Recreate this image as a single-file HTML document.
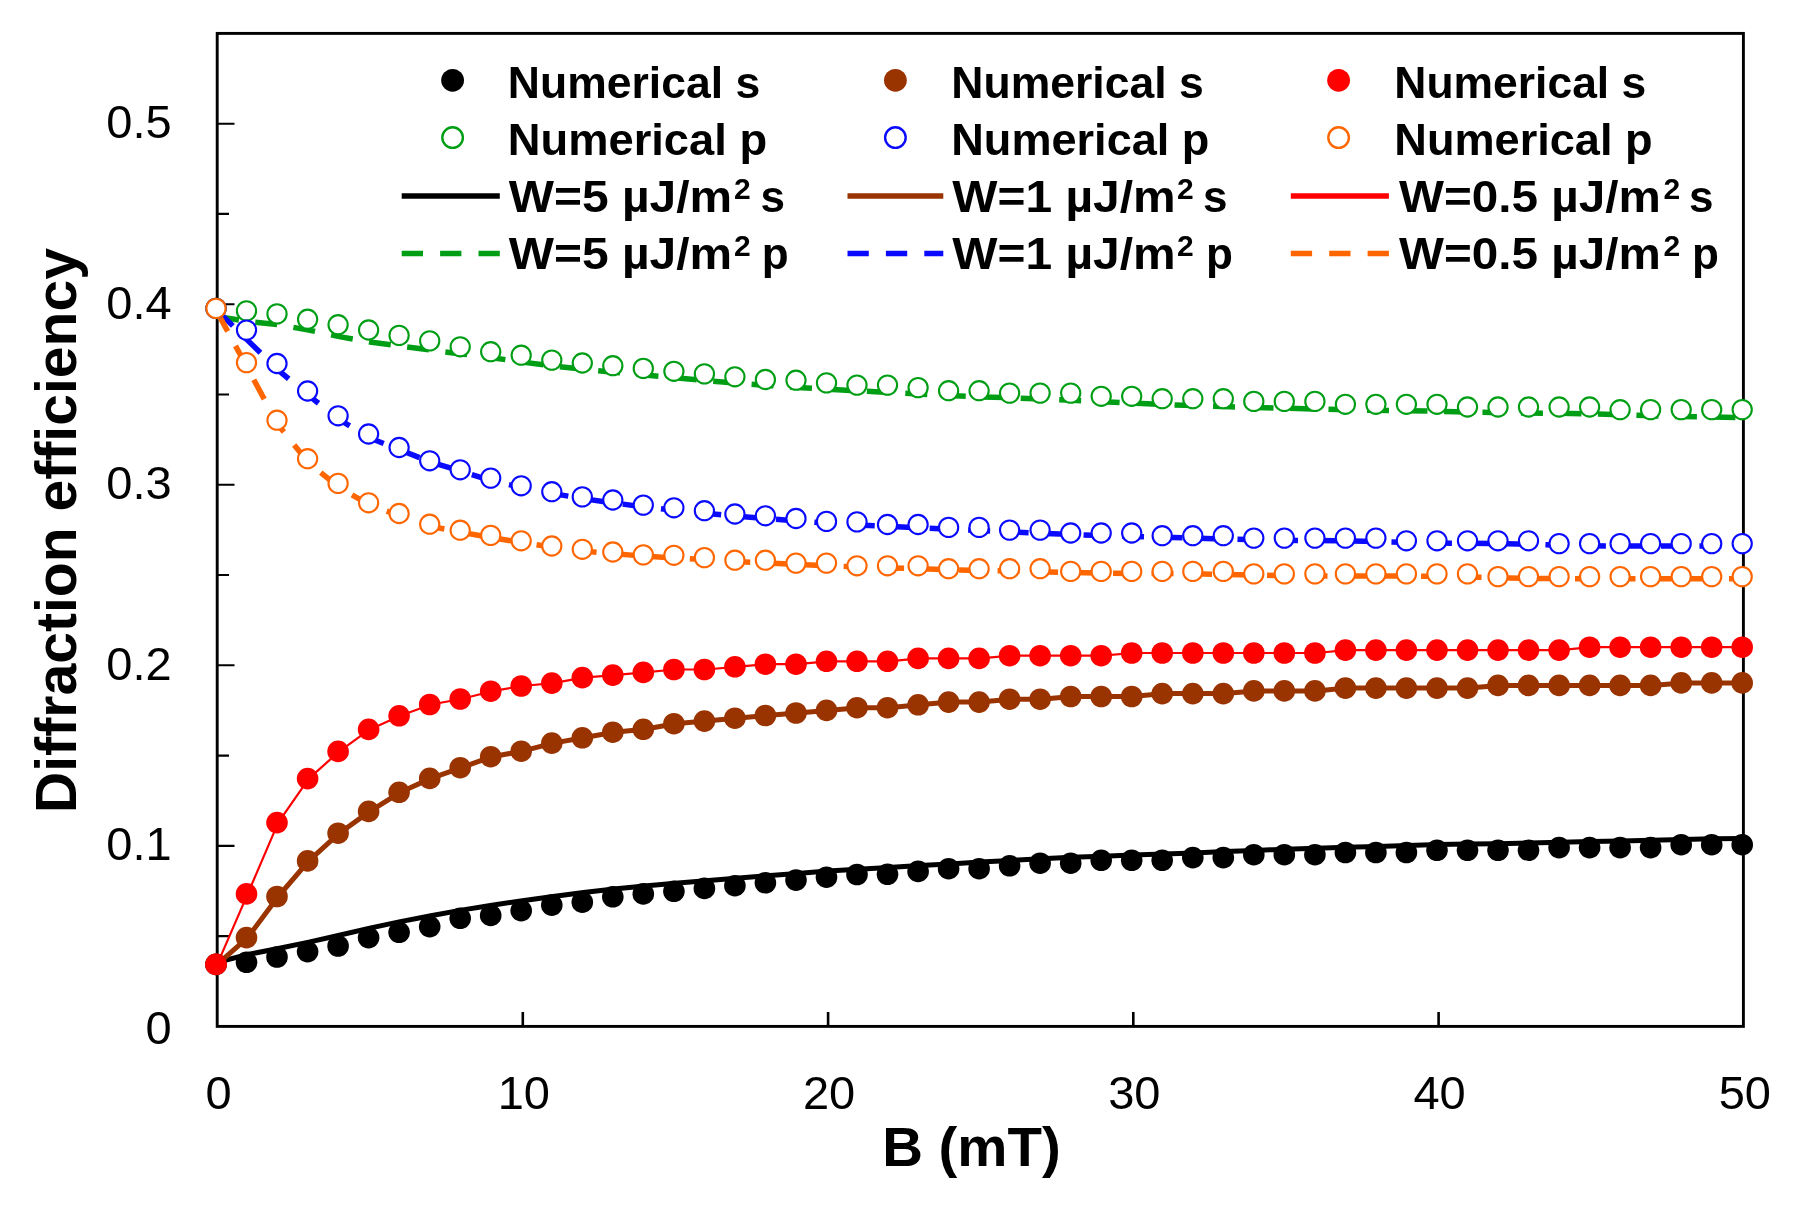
<!DOCTYPE html>
<html lang="en"><head><meta charset="utf-8"><title>Diffraction efficiency vs B</title>
<style>html,body{margin:0;padding:0;background:#fff}body{width:1797px;height:1210px;overflow:hidden}svg{display:block;filter:blur(0.75px)}text{font-family:"Liberation Sans",sans-serif;fill:#000}.b{font-weight:bold}</style></head><body>
<svg width="1797" height="1210" viewBox="0 0 1797 1210">
<rect width="1797" height="1210" fill="#fff"/>
<rect x="217.2" y="33.4" width="1526.2" height="993.0" fill="none" stroke="#000" stroke-width="2.9"/>
<path d="M217.2 936.1h11.8 M217.2 845.9h17.3 M217.2 755.6h11.8 M217.2 665.3h17.3 M217.2 575.0h11.8 M217.2 484.8h17.3 M217.2 394.5h11.8 M217.2 304.2h17.3 M217.2 213.9h11.8 M217.2 123.7h17.3" stroke="#000" stroke-width="2.1" fill="none"/>
<path d="M522.8 1026.4v-14.4 M828.1 1026.4v-14.4 M1133.3 1026.4v-14.4 M1438.6 1026.4v-14.4" stroke="#000" stroke-width="2.6" fill="none"/>
<polyline fill="none" stroke="#009e14" stroke-width="5.5" stroke-linejoin="round" stroke-dasharray="22.0 16.5" points="217.2,316.5 247.7,321.5 278.2,324.7 308.8,330.1 339.3,336.6 369.8,342.0 400.3,346.1 430.9,350.1 461.4,353.9 491.9,357.7 522.4,362.1 553.0,365.9 583.5,369.3 614.0,372.3 644.5,375.1 675.1,377.8 705.6,380.6 736.1,383.1 766.6,385.4 797.2,387.4 827.7,389.2 858.2,390.9 888.7,392.4 919.3,394.0 949.8,395.6 980.3,396.9 1010.8,397.8 1041.3,398.9 1071.9,400.2 1102.4,401.7 1132.9,403.2 1163.4,404.5 1194.0,405.6 1224.5,406.6 1255.0,407.4 1285.5,408.2 1316.1,409.0 1346.6,409.8 1377.1,410.3 1407.6,410.7 1438.2,411.3 1468.7,412.1 1499.2,412.7 1529.7,413.0 1560.3,413.3 1590.8,413.9 1621.3,414.8 1651.8,415.8 1682.4,416.6 1712.9,417.1 1743.4,417.6"/>
<polyline fill="none" stroke="#0a0aff" stroke-width="5.5" stroke-linejoin="round" stroke-dasharray="22.0 16.5" points="217.2,310.5 247.7,340.4 278.2,370.1 308.8,395.7 339.3,419.5 369.8,438.0 400.3,450.0 430.9,462.2 461.4,471.3 491.9,480.9 522.4,487.5 553.0,493.6 583.5,498.7 614.0,503.0 644.5,506.9 675.1,510.3 705.6,513.3 736.1,516.1 766.6,518.6 797.2,521.0 827.7,523.1 858.2,524.9 888.7,526.4 919.3,527.8 949.8,529.2 980.3,530.6 1010.8,532.0 1041.3,533.3 1071.9,534.5 1102.4,535.5 1132.9,536.4 1163.4,537.3 1194.0,538.2 1224.5,539.0 1255.0,539.8 1285.5,540.3 1316.1,540.6 1346.6,540.9 1377.1,541.6 1407.6,542.4 1438.2,543.0 1468.7,543.3 1499.2,543.6 1529.7,544.3 1560.3,545.2 1590.8,545.8 1621.3,546.1 1651.8,546.1 1682.4,546.1 1712.9,546.1 1743.4,546.1"/>
<polyline fill="none" stroke="#ff6600" stroke-width="5.5" stroke-linejoin="round" stroke-dasharray="22.0 16.5" points="217.2,312.0 247.7,368.3 278.2,425.1 308.8,463.0 339.3,487.4 369.8,505.2 400.3,515.9 430.9,526.4 461.4,532.4 491.9,537.6 522.4,542.7 553.0,547.2 583.5,550.9 614.0,553.8 644.5,556.1 675.1,558.0 705.6,559.8 736.1,561.5 766.6,563.0 797.2,564.4 827.7,565.8 858.2,566.9 888.7,567.9 919.3,568.8 949.8,569.8 980.3,570.5 1010.8,571.0 1041.3,571.7 1071.9,572.5 1102.4,573.2 1132.9,573.4 1163.4,573.5 1194.0,573.8 1224.5,574.4 1255.0,575.1 1285.5,575.7 1316.1,575.9 1346.6,576.0 1377.1,576.0 1407.6,576.0 1438.2,576.3 1468.7,576.9 1499.2,577.8 1529.7,578.4 1560.3,578.6 1590.8,578.7 1621.3,578.7 1651.8,578.7 1682.4,578.7 1712.9,578.7 1743.4,578.7"/>
<polyline fill="none" stroke="#000000" stroke-width="5.0" stroke-linejoin="round" points="217.2,962.3 247.7,954.5 278.2,948.5 308.8,942.1 339.3,935.3 369.8,928.1 400.3,921.6 430.9,915.7 461.4,910.1 491.9,905.2 522.4,900.7 553.0,896.6 583.5,892.6 614.0,889.1 644.5,885.9 675.1,883.2 705.6,880.7 736.1,878.3 766.6,875.8 797.2,873.4 827.7,871.1 858.2,869.3 888.7,867.5 919.3,865.6 949.8,863.9 980.3,862.1 1010.8,860.4 1041.3,858.7 1071.9,857.3 1102.4,856.2 1132.9,855.1 1163.4,854.1 1194.0,852.9 1224.5,851.6 1255.0,850.4 1285.5,849.2 1316.1,848.3 1346.6,847.3 1377.1,846.4 1407.6,845.4 1438.2,844.6 1468.7,844.1 1499.2,843.7 1529.7,843.0 1560.3,842.2 1590.8,841.5 1621.3,841.0 1651.8,840.3 1682.4,839.4 1712.9,838.8 1743.4,838.5"/>
<polyline fill="none" stroke="#993300" stroke-width="5.0" stroke-linejoin="round" points="217.2,964.4 247.7,937.6 278.2,896.5 308.8,860.9 339.3,833.2 369.8,811.4 400.3,792.3 430.9,778.4 461.4,767.7 491.9,756.7 522.4,751.2 553.0,743.1 583.5,737.8 614.0,732.2 644.5,729.3 675.1,723.7 705.6,721.1 736.1,718.2 766.6,715.5 797.2,713.0 827.7,710.4 858.2,707.7 888.7,707.7 919.3,704.8 949.8,702.1 980.3,702.1 1010.8,699.2 1041.3,699.2 1071.9,696.5 1102.4,696.5 1132.9,696.5 1163.4,693.6 1194.0,693.6 1224.5,693.6 1255.0,690.9 1285.5,690.9 1316.1,690.9 1346.6,688.1 1377.1,688.1 1407.6,688.1 1438.2,688.1 1468.7,688.1 1499.2,685.4 1529.7,685.4 1560.3,685.4 1590.8,685.4 1621.3,685.4 1651.8,685.4 1682.4,682.9 1712.9,682.9 1743.4,682.9"/>
<polyline fill="none" stroke="#fe0000" stroke-width="2.2" stroke-linejoin="round" points="217.2,964.4 247.7,893.9 278.2,822.6 308.8,778.6 339.3,751.4 369.8,729.4 400.3,715.8 430.9,704.5 461.4,699.0 491.9,691.2 522.4,686.0 553.0,683.1 583.5,677.6 614.0,675.1 644.5,672.4 675.1,669.5 705.6,669.5 736.1,666.8 766.6,664.2 797.2,664.2 827.7,661.3 858.2,661.3 888.7,661.3 919.3,658.4 949.8,658.4 980.3,658.4 1010.8,655.7 1041.3,655.7 1071.9,655.7 1102.4,655.7 1132.9,653.0 1163.4,653.0 1194.0,653.0 1224.5,653.0 1255.0,653.0 1285.5,653.0 1316.1,653.0 1346.6,650.1 1377.1,650.1 1407.6,650.1 1438.2,650.1 1468.7,650.1 1499.2,650.1 1529.7,650.1 1560.3,650.1 1590.8,647.2 1621.3,647.2 1651.8,647.2 1682.4,647.2 1712.9,647.2 1743.4,647.2"/>
<g fill="#000000"><circle cx="216.0" cy="964.4" r="10.8"/><circle cx="246.5" cy="962.3" r="10.8"/><circle cx="277.0" cy="957.0" r="10.8"/><circle cx="307.6" cy="951.6" r="10.8"/><circle cx="338.1" cy="946.0" r="10.8"/><circle cx="368.6" cy="937.6" r="10.8"/><circle cx="399.1" cy="932.3" r="10.8"/><circle cx="429.7" cy="926.6" r="10.8"/><circle cx="460.2" cy="918.3" r="10.8"/><circle cx="490.7" cy="915.4" r="10.8"/><circle cx="521.2" cy="910.6" r="10.8"/><circle cx="551.8" cy="905.1" r="10.8"/><circle cx="582.3" cy="902.2" r="10.8"/><circle cx="612.8" cy="896.8" r="10.8"/><circle cx="643.3" cy="893.9" r="10.8"/><circle cx="673.9" cy="891.3" r="10.8"/><circle cx="704.4" cy="888.4" r="10.8"/><circle cx="734.9" cy="885.7" r="10.8"/><circle cx="765.4" cy="882.8" r="10.8"/><circle cx="796.0" cy="880.1" r="10.8"/><circle cx="826.5" cy="877.2" r="10.8"/><circle cx="857.0" cy="874.5" r="10.8"/><circle cx="887.5" cy="874.3" r="10.8"/><circle cx="918.1" cy="871.4" r="10.8"/><circle cx="948.6" cy="868.7" r="10.8"/><circle cx="979.1" cy="868.7" r="10.8"/><circle cx="1009.6" cy="865.8" r="10.8"/><circle cx="1040.1" cy="863.2" r="10.8"/><circle cx="1070.7" cy="863.2" r="10.8"/><circle cx="1101.2" cy="860.3" r="10.8"/><circle cx="1131.7" cy="860.3" r="10.8"/><circle cx="1162.2" cy="860.3" r="10.8"/><circle cx="1192.8" cy="857.6" r="10.8"/><circle cx="1223.3" cy="857.6" r="10.8"/><circle cx="1253.8" cy="854.7" r="10.8"/><circle cx="1284.3" cy="854.7" r="10.8"/><circle cx="1314.9" cy="854.7" r="10.8"/><circle cx="1345.4" cy="852.5" r="10.8"/><circle cx="1375.9" cy="852.5" r="10.8"/><circle cx="1406.4" cy="852.5" r="10.8"/><circle cx="1437.0" cy="850.3" r="10.8"/><circle cx="1467.5" cy="850.3" r="10.8"/><circle cx="1498.0" cy="850.3" r="10.8"/><circle cx="1528.5" cy="850.3" r="10.8"/><circle cx="1559.1" cy="847.6" r="10.8"/><circle cx="1589.6" cy="847.6" r="10.8"/><circle cx="1620.1" cy="847.6" r="10.8"/><circle cx="1650.6" cy="847.6" r="10.8"/><circle cx="1681.2" cy="844.7" r="10.8"/><circle cx="1711.7" cy="844.7" r="10.8"/><circle cx="1742.2" cy="844.7" r="10.8"/></g>
<g fill="#fff" stroke="#009e14" stroke-width="2.1"><circle cx="216.0" cy="308.4" r="9.6"/><circle cx="246.5" cy="310.9" r="9.6"/><circle cx="277.0" cy="313.9" r="9.6"/><circle cx="307.6" cy="319.2" r="9.6"/><circle cx="338.1" cy="324.7" r="9.6"/><circle cx="368.6" cy="330.0" r="9.6"/><circle cx="399.1" cy="335.4" r="9.6"/><circle cx="429.7" cy="340.9" r="9.6"/><circle cx="460.2" cy="346.8" r="9.6"/><circle cx="490.7" cy="351.7" r="9.6"/><circle cx="521.2" cy="355.2" r="9.6"/><circle cx="551.8" cy="360.1" r="9.6"/><circle cx="582.3" cy="363.0" r="9.6"/><circle cx="612.8" cy="365.7" r="9.6"/><circle cx="643.3" cy="368.4" r="9.6"/><circle cx="673.9" cy="371.3" r="9.6"/><circle cx="704.4" cy="373.9" r="9.6"/><circle cx="734.9" cy="376.8" r="9.6"/><circle cx="765.4" cy="379.5" r="9.6"/><circle cx="796.0" cy="380.2" r="9.6"/><circle cx="826.5" cy="382.9" r="9.6"/><circle cx="857.0" cy="385.1" r="9.6"/><circle cx="887.5" cy="385.1" r="9.6"/><circle cx="918.1" cy="387.6" r="9.6"/><circle cx="948.6" cy="390.7" r="9.6"/><circle cx="979.1" cy="390.7" r="9.6"/><circle cx="1009.6" cy="393.1" r="9.6"/><circle cx="1040.1" cy="393.1" r="9.6"/><circle cx="1070.7" cy="393.1" r="9.6"/><circle cx="1101.2" cy="396.3" r="9.6"/><circle cx="1131.7" cy="396.3" r="9.6"/><circle cx="1162.2" cy="398.7" r="9.6"/><circle cx="1192.8" cy="398.7" r="9.6"/><circle cx="1223.3" cy="398.7" r="9.6"/><circle cx="1253.8" cy="401.4" r="9.6"/><circle cx="1284.3" cy="401.4" r="9.6"/><circle cx="1314.9" cy="401.4" r="9.6"/><circle cx="1345.4" cy="404.3" r="9.6"/><circle cx="1375.9" cy="404.3" r="9.6"/><circle cx="1406.4" cy="404.3" r="9.6"/><circle cx="1437.0" cy="404.3" r="9.6"/><circle cx="1467.5" cy="407.0" r="9.6"/><circle cx="1498.0" cy="407.0" r="9.6"/><circle cx="1528.5" cy="407.0" r="9.6"/><circle cx="1559.1" cy="407.0" r="9.6"/><circle cx="1589.6" cy="407.0" r="9.6"/><circle cx="1620.1" cy="409.7" r="9.6"/><circle cx="1650.6" cy="409.6" r="9.6"/><circle cx="1681.2" cy="409.6" r="9.6"/><circle cx="1711.7" cy="409.6" r="9.6"/><circle cx="1742.2" cy="409.6" r="9.6"/></g>
<g fill="#993300"><circle cx="216.0" cy="964.4" r="10.8"/><circle cx="246.5" cy="937.6" r="10.8"/><circle cx="277.0" cy="896.5" r="10.8"/><circle cx="307.6" cy="860.9" r="10.8"/><circle cx="338.1" cy="833.2" r="10.8"/><circle cx="368.6" cy="811.4" r="10.8"/><circle cx="399.1" cy="792.3" r="10.8"/><circle cx="429.7" cy="778.4" r="10.8"/><circle cx="460.2" cy="767.7" r="10.8"/><circle cx="490.7" cy="756.7" r="10.8"/><circle cx="521.2" cy="751.2" r="10.8"/><circle cx="551.8" cy="743.1" r="10.8"/><circle cx="582.3" cy="737.8" r="10.8"/><circle cx="612.8" cy="732.2" r="10.8"/><circle cx="643.3" cy="729.3" r="10.8"/><circle cx="673.9" cy="723.7" r="10.8"/><circle cx="704.4" cy="721.1" r="10.8"/><circle cx="734.9" cy="718.2" r="10.8"/><circle cx="765.4" cy="715.5" r="10.8"/><circle cx="796.0" cy="713.0" r="10.8"/><circle cx="826.5" cy="710.4" r="10.8"/><circle cx="857.0" cy="707.7" r="10.8"/><circle cx="887.5" cy="707.7" r="10.8"/><circle cx="918.1" cy="704.8" r="10.8"/><circle cx="948.6" cy="702.1" r="10.8"/><circle cx="979.1" cy="702.1" r="10.8"/><circle cx="1009.6" cy="699.2" r="10.8"/><circle cx="1040.1" cy="699.2" r="10.8"/><circle cx="1070.7" cy="696.5" r="10.8"/><circle cx="1101.2" cy="696.5" r="10.8"/><circle cx="1131.7" cy="696.5" r="10.8"/><circle cx="1162.2" cy="693.6" r="10.8"/><circle cx="1192.8" cy="693.6" r="10.8"/><circle cx="1223.3" cy="693.6" r="10.8"/><circle cx="1253.8" cy="690.9" r="10.8"/><circle cx="1284.3" cy="690.9" r="10.8"/><circle cx="1314.9" cy="690.9" r="10.8"/><circle cx="1345.4" cy="688.1" r="10.8"/><circle cx="1375.9" cy="688.1" r="10.8"/><circle cx="1406.4" cy="688.1" r="10.8"/><circle cx="1437.0" cy="688.1" r="10.8"/><circle cx="1467.5" cy="688.1" r="10.8"/><circle cx="1498.0" cy="685.4" r="10.8"/><circle cx="1528.5" cy="685.4" r="10.8"/><circle cx="1559.1" cy="685.4" r="10.8"/><circle cx="1589.6" cy="685.4" r="10.8"/><circle cx="1620.1" cy="685.4" r="10.8"/><circle cx="1650.6" cy="685.4" r="10.8"/><circle cx="1681.2" cy="682.9" r="10.8"/><circle cx="1711.7" cy="682.9" r="10.8"/><circle cx="1742.2" cy="682.9" r="10.8"/></g>
<g fill="#fff" stroke="#0a0aff" stroke-width="2.1"><circle cx="216.0" cy="308.4" r="9.6"/><circle cx="246.5" cy="330.1" r="9.6"/><circle cx="277.0" cy="363.5" r="9.6"/><circle cx="307.6" cy="391.0" r="9.6"/><circle cx="338.1" cy="415.8" r="9.6"/><circle cx="368.6" cy="434.0" r="9.6"/><circle cx="399.1" cy="447.5" r="9.6"/><circle cx="429.7" cy="460.8" r="9.6"/><circle cx="460.2" cy="469.8" r="9.6"/><circle cx="490.7" cy="478.1" r="9.6"/><circle cx="521.2" cy="485.8" r="9.6"/><circle cx="551.8" cy="491.7" r="9.6"/><circle cx="582.3" cy="496.9" r="9.6"/><circle cx="612.8" cy="500.0" r="9.6"/><circle cx="643.3" cy="505.1" r="9.6"/><circle cx="673.9" cy="507.8" r="9.6"/><circle cx="704.4" cy="510.7" r="9.6"/><circle cx="734.9" cy="514.0" r="9.6"/><circle cx="765.4" cy="515.8" r="9.6"/><circle cx="796.0" cy="518.5" r="9.6"/><circle cx="826.5" cy="521.4" r="9.6"/><circle cx="857.0" cy="521.9" r="9.6"/><circle cx="887.5" cy="524.5" r="9.6"/><circle cx="918.1" cy="524.5" r="9.6"/><circle cx="948.6" cy="527.4" r="9.6"/><circle cx="979.1" cy="527.4" r="9.6"/><circle cx="1009.6" cy="530.1" r="9.6"/><circle cx="1040.1" cy="530.1" r="9.6"/><circle cx="1070.7" cy="533.0" r="9.6"/><circle cx="1101.2" cy="533.0" r="9.6"/><circle cx="1131.7" cy="533.0" r="9.6"/><circle cx="1162.2" cy="535.7" r="9.6"/><circle cx="1192.8" cy="535.7" r="9.6"/><circle cx="1223.3" cy="535.7" r="9.6"/><circle cx="1253.8" cy="538.1" r="9.6"/><circle cx="1284.3" cy="538.1" r="9.6"/><circle cx="1314.9" cy="538.1" r="9.6"/><circle cx="1345.4" cy="538.1" r="9.6"/><circle cx="1375.9" cy="538.1" r="9.6"/><circle cx="1406.4" cy="540.8" r="9.6"/><circle cx="1437.0" cy="540.8" r="9.6"/><circle cx="1467.5" cy="540.8" r="9.6"/><circle cx="1498.0" cy="540.8" r="9.6"/><circle cx="1528.5" cy="540.8" r="9.6"/><circle cx="1559.1" cy="543.6" r="9.6"/><circle cx="1589.6" cy="543.6" r="9.6"/><circle cx="1620.1" cy="543.6" r="9.6"/><circle cx="1650.6" cy="543.6" r="9.6"/><circle cx="1681.2" cy="543.6" r="9.6"/><circle cx="1711.7" cy="543.6" r="9.6"/><circle cx="1742.2" cy="543.6" r="9.6"/></g>
<g fill="#fe0000"><circle cx="216.0" cy="964.4" r="10.8"/><circle cx="246.5" cy="893.9" r="10.8"/><circle cx="277.0" cy="822.6" r="10.8"/><circle cx="307.6" cy="778.6" r="10.8"/><circle cx="338.1" cy="751.4" r="10.8"/><circle cx="368.6" cy="729.4" r="10.8"/><circle cx="399.1" cy="715.8" r="10.8"/><circle cx="429.7" cy="704.5" r="10.8"/><circle cx="460.2" cy="699.0" r="10.8"/><circle cx="490.7" cy="691.2" r="10.8"/><circle cx="521.2" cy="686.0" r="10.8"/><circle cx="551.8" cy="683.1" r="10.8"/><circle cx="582.3" cy="677.6" r="10.8"/><circle cx="612.8" cy="675.1" r="10.8"/><circle cx="643.3" cy="672.4" r="10.8"/><circle cx="673.9" cy="669.5" r="10.8"/><circle cx="704.4" cy="669.5" r="10.8"/><circle cx="734.9" cy="666.8" r="10.8"/><circle cx="765.4" cy="664.2" r="10.8"/><circle cx="796.0" cy="664.2" r="10.8"/><circle cx="826.5" cy="661.3" r="10.8"/><circle cx="857.0" cy="661.3" r="10.8"/><circle cx="887.5" cy="661.3" r="10.8"/><circle cx="918.1" cy="658.4" r="10.8"/><circle cx="948.6" cy="658.4" r="10.8"/><circle cx="979.1" cy="658.4" r="10.8"/><circle cx="1009.6" cy="655.7" r="10.8"/><circle cx="1040.1" cy="655.7" r="10.8"/><circle cx="1070.7" cy="655.7" r="10.8"/><circle cx="1101.2" cy="655.7" r="10.8"/><circle cx="1131.7" cy="653.0" r="10.8"/><circle cx="1162.2" cy="653.0" r="10.8"/><circle cx="1192.8" cy="653.0" r="10.8"/><circle cx="1223.3" cy="653.0" r="10.8"/><circle cx="1253.8" cy="653.0" r="10.8"/><circle cx="1284.3" cy="653.0" r="10.8"/><circle cx="1314.9" cy="653.0" r="10.8"/><circle cx="1345.4" cy="650.1" r="10.8"/><circle cx="1375.9" cy="650.1" r="10.8"/><circle cx="1406.4" cy="650.1" r="10.8"/><circle cx="1437.0" cy="650.1" r="10.8"/><circle cx="1467.5" cy="650.1" r="10.8"/><circle cx="1498.0" cy="650.1" r="10.8"/><circle cx="1528.5" cy="650.1" r="10.8"/><circle cx="1559.1" cy="650.1" r="10.8"/><circle cx="1589.6" cy="647.2" r="10.8"/><circle cx="1620.1" cy="647.2" r="10.8"/><circle cx="1650.6" cy="647.2" r="10.8"/><circle cx="1681.2" cy="647.2" r="10.8"/><circle cx="1711.7" cy="647.2" r="10.8"/><circle cx="1742.2" cy="647.2" r="10.8"/></g>
<g fill="#fff" stroke="#ff6600" stroke-width="2.1"><circle cx="216.0" cy="308.4" r="9.6"/><circle cx="246.5" cy="362.6" r="9.6"/><circle cx="277.0" cy="420.2" r="9.6"/><circle cx="307.6" cy="458.7" r="9.6"/><circle cx="338.1" cy="483.4" r="9.6"/><circle cx="368.6" cy="502.8" r="9.6"/><circle cx="399.1" cy="513.5" r="9.6"/><circle cx="429.7" cy="524.2" r="9.6"/><circle cx="460.2" cy="530.2" r="9.6"/><circle cx="490.7" cy="535.4" r="9.6"/><circle cx="521.2" cy="540.8" r="9.6"/><circle cx="551.8" cy="546.0" r="9.6"/><circle cx="582.3" cy="549.3" r="9.6"/><circle cx="612.8" cy="552.0" r="9.6"/><circle cx="643.3" cy="554.9" r="9.6"/><circle cx="673.9" cy="555.3" r="9.6"/><circle cx="704.4" cy="557.6" r="9.6"/><circle cx="734.9" cy="560.2" r="9.6"/><circle cx="765.4" cy="560.2" r="9.6"/><circle cx="796.0" cy="563.1" r="9.6"/><circle cx="826.5" cy="563.1" r="9.6"/><circle cx="857.0" cy="565.8" r="9.6"/><circle cx="887.5" cy="565.8" r="9.6"/><circle cx="918.1" cy="565.8" r="9.6"/><circle cx="948.6" cy="568.7" r="9.6"/><circle cx="979.1" cy="568.7" r="9.6"/><circle cx="1009.6" cy="568.7" r="9.6"/><circle cx="1040.1" cy="568.7" r="9.6"/><circle cx="1070.7" cy="571.4" r="9.6"/><circle cx="1101.2" cy="571.4" r="9.6"/><circle cx="1131.7" cy="571.4" r="9.6"/><circle cx="1162.2" cy="571.4" r="9.6"/><circle cx="1192.8" cy="571.4" r="9.6"/><circle cx="1223.3" cy="571.4" r="9.6"/><circle cx="1253.8" cy="573.9" r="9.6"/><circle cx="1284.3" cy="573.9" r="9.6"/><circle cx="1314.9" cy="573.9" r="9.6"/><circle cx="1345.4" cy="573.9" r="9.6"/><circle cx="1375.9" cy="573.9" r="9.6"/><circle cx="1406.4" cy="573.9" r="9.6"/><circle cx="1437.0" cy="573.9" r="9.6"/><circle cx="1467.5" cy="573.9" r="9.6"/><circle cx="1498.0" cy="576.6" r="9.6"/><circle cx="1528.5" cy="576.6" r="9.6"/><circle cx="1559.1" cy="576.6" r="9.6"/><circle cx="1589.6" cy="576.6" r="9.6"/><circle cx="1620.1" cy="576.6" r="9.6"/><circle cx="1650.6" cy="576.6" r="9.6"/><circle cx="1681.2" cy="576.6" r="9.6"/><circle cx="1711.7" cy="576.6" r="9.6"/><circle cx="1742.2" cy="576.6" r="9.6"/></g>
<text x="171.6" y="1043.6" font-size="47" text-anchor="end">0</text>
<text x="171.6" y="860.3" font-size="47" text-anchor="end">0.1</text>
<text x="171.6" y="679.7" font-size="47" text-anchor="end">0.2</text>
<text x="171.6" y="499.2" font-size="47" text-anchor="end">0.3</text>
<text x="171.6" y="318.6" font-size="47" text-anchor="end">0.4</text>
<text x="171.6" y="138.1" font-size="47" text-anchor="end">0.5</text>
<text x="218.6" y="1109.3" font-size="47" text-anchor="middle">0</text>
<text x="523.8" y="1109.3" font-size="47" text-anchor="middle">10</text>
<text x="829.1" y="1109.3" font-size="47" text-anchor="middle">20</text>
<text x="1134.3" y="1109.3" font-size="47" text-anchor="middle">30</text>
<text x="1439.6" y="1109.3" font-size="47" text-anchor="middle">40</text>
<text x="1744.8" y="1109.3" font-size="47" text-anchor="middle">50</text>
<text class="b" x="882.2" y="1166.2" font-size="55" textLength="178.5" lengthAdjust="spacingAndGlyphs">B (mT)</text>
<text class="b" transform="translate(75.6 813) rotate(-90)" font-size="57" textLength="565" lengthAdjust="spacingAndGlyphs">Diffraction efficiency</text>
<circle cx="452.6" cy="80.3" r="11.4" fill="#000000"/>
<circle cx="452.6" cy="137.6" r="10.3" fill="#fff" stroke="#009e14" stroke-width="2.4"/>
<path d="M401.7 196.0H499.8" stroke="#000000" stroke-width="5.5"/>
<path d="M401.7 253.4H499.8" stroke="#009e14" stroke-width="5.5" stroke-dasharray="21.3 17.1"/>
<text class="b" x="507.8" y="98.2" font-size="44" textLength="252.4" lengthAdjust="spacingAndGlyphs">Numerical s</text>
<text class="b" x="507.8" y="155.0" font-size="44" textLength="259.3" lengthAdjust="spacingAndGlyphs">Numerical p</text>
<text class="b" x="508.8" y="212.3" font-size="44" textLength="223.4" lengthAdjust="spacingAndGlyphs">W=5 µJ/m</text>
<text class="b" x="734.0" y="198.9" font-size="30">2</text>
<text class="b" x="760.4" y="212.3" font-size="44">s</text>
<text class="b" x="508.8" y="269.3" font-size="44" textLength="223.4" lengthAdjust="spacingAndGlyphs">W=5 µJ/m</text>
<text class="b" x="734.0" y="255.9" font-size="30">2</text>
<text class="b" x="761.8" y="269.3" font-size="44">p</text>
<circle cx="895.4" cy="80.3" r="11.4" fill="#993300"/>
<circle cx="895.4" cy="137.6" r="10.3" fill="#fff" stroke="#0a0aff" stroke-width="2.4"/>
<path d="M847.5 196.0H943.3" stroke="#993300" stroke-width="5.5"/>
<path d="M847.5 253.4H943.3" stroke="#0a0aff" stroke-width="5.5" stroke-dasharray="21.3 17.1"/>
<text class="b" x="951.3" y="98.2" font-size="44" textLength="252.5" lengthAdjust="spacingAndGlyphs">Numerical s</text>
<text class="b" x="951.3" y="155.0" font-size="44" textLength="258.1" lengthAdjust="spacingAndGlyphs">Numerical p</text>
<text class="b" x="952.3" y="212.3" font-size="44" textLength="223.4" lengthAdjust="spacingAndGlyphs">W=1 µJ/m</text>
<text class="b" x="1177.1" y="198.9" font-size="30">2</text>
<text class="b" x="1202.9" y="212.3" font-size="44">s</text>
<text class="b" x="952.3" y="269.3" font-size="44" textLength="223.4" lengthAdjust="spacingAndGlyphs">W=1 µJ/m</text>
<text class="b" x="1177.1" y="255.9" font-size="30">2</text>
<text class="b" x="1206.1" y="269.3" font-size="44">p</text>
<circle cx="1338.6" cy="80.3" r="11.4" fill="#fe0000"/>
<circle cx="1338.6" cy="137.6" r="10.3" fill="#fff" stroke="#ff6600" stroke-width="2.4"/>
<path d="M1290.8 196.0H1388.9" stroke="#fe0000" stroke-width="5.5"/>
<path d="M1290.8 253.4H1388.9" stroke="#ff6600" stroke-width="5.5" stroke-dasharray="21.3 17.1"/>
<text class="b" x="1394.3" y="98.2" font-size="44" textLength="252.0" lengthAdjust="spacingAndGlyphs">Numerical s</text>
<text class="b" x="1394.3" y="155.0" font-size="44" textLength="258.3" lengthAdjust="spacingAndGlyphs">Numerical p</text>
<text class="b" x="1399.1" y="212.3" font-size="44" textLength="261.7" lengthAdjust="spacingAndGlyphs">W=0.5 µJ/m</text>
<text class="b" x="1663.6" y="198.9" font-size="30">2</text>
<text class="b" x="1688.9" y="212.3" font-size="44">s</text>
<text class="b" x="1399.1" y="269.3" font-size="44" textLength="261.7" lengthAdjust="spacingAndGlyphs">W=0.5 µJ/m</text>
<text class="b" x="1663.6" y="255.9" font-size="30">2</text>
<text class="b" x="1692.1" y="269.3" font-size="44">p</text>
</svg></body></html>
